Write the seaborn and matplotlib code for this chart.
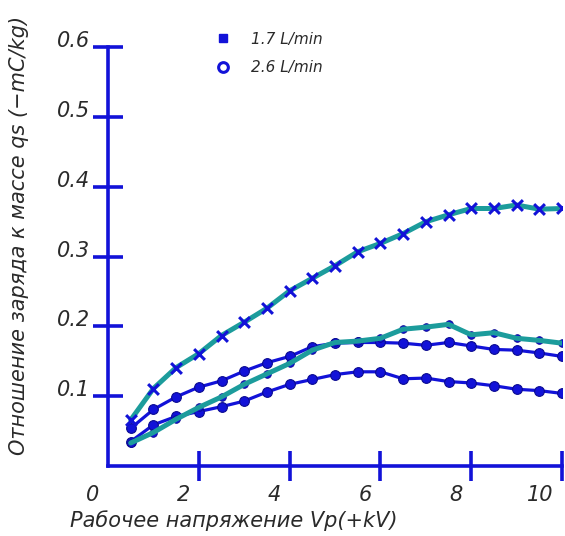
import numpy as np
import pandas as pd
import seaborn as sns
import matplotlib.pyplot as plt
from matplotlib.lines import Line2D
from matplotlib.transforms import ScaledTranslation

# operating voltage, kV
kv = [0.5, 1.0, 1.5, 2.0, 2.5, 3.0, 3.5, 4.0, 4.5, 5.0,
      5.5, 6.0, 6.5, 7.0, 7.5, 8.0, 8.5, 9.0, 9.5, 10.0]

# charge-to-mass ratio, -mC/kg
q_upper = [0.054, 0.081, 0.099, 0.113, 0.122, 0.136, 0.148, 0.157, 0.171, 0.176,
           0.177, 0.177, 0.176, 0.173, 0.177, 0.172, 0.167, 0.166, 0.162, 0.157]
q_lower = [0.035, 0.059, 0.071, 0.078, 0.085, 0.093, 0.106, 0.117, 0.124, 0.131,
           0.135, 0.135, 0.125, 0.126, 0.121, 0.119, 0.115, 0.110, 0.108, 0.104]
q_mid = [0.033, 0.048, 0.067, 0.084, 0.099, 0.117, 0.132, 0.147, 0.166, 0.177,
         0.179, 0.183, 0.196, 0.199, 0.203, 0.188, 0.191, 0.183, 0.180, 0.176]
q_top = [0.066, 0.111, 0.141, 0.161, 0.187, 0.206, 0.226, 0.251, 0.269, 0.287,
         0.307, 0.319, 0.333, 0.350, 0.360, 0.369, 0.369, 0.374, 0.368, 0.369]

legend_labels = ['1.7 L/min', '2.6 L/min']
xticks = [0, 2, 4, 6, 8, 10]
yticks = [0.1, 0.2, 0.3, 0.4, 0.5, 0.6]

blue = '#1212d8'
teal = '#1c9c9c'
txt = '#2a2a2a'

df = pd.DataFrame({'kv': kv, 'upper': q_upper, 'lower': q_lower,
                   'mid': q_mid, 'top': q_top})

sns.set_style('white')
plt.rcParams['font.family'] = ['DejaVu Sans']
plt.rcParams['font.style'] = 'italic'

fig = plt.figure(figsize=(5.65, 5.36), dpi=100)
ax = fig.add_axes([108 / 565, 70 / 536, 454 / 565, 418.7 / 536])

# blue curves with round markers
for col in ['upper', 'lower']:
    sns.lineplot(data=df, x='kv', y=col, ax=ax, color=blue, lw=2.3,
                 marker='o', markersize=7, markerfacecolor=blue,
                 markeredgecolor='#0a0a90', markeredgewidth=0.8, zorder=3)
sns.lineplot(data=df, x='kv', y='mid', ax=ax, color=blue, lw=2.0,
             marker='o', markersize=5.5, markerfacecolor=blue,
             markeredgecolor='#0a0a90', markeredgewidth=0.6, zorder=3)

# teal curves on top
sns.lineplot(data=df, x='kv', y='mid', ax=ax, color=teal, lw=3.6, zorder=4)
sns.lineplot(data=df, x='kv', y='top', ax=ax, color=teal, lw=3.6, zorder=4)
# x markers over the top curve
sns.scatterplot(data=df, x='kv', y='top', ax=ax, marker='x', s=60,
                color=blue, linewidth=2.2, zorder=5)

ax.set_xlim(0, 10)
ax.set_ylim(0, 0.6)
ax.set_xticks(xticks)
ax.set_yticks(yticks)
ax.set_xticklabels([str(t) for t in xticks])
ax.set_yticklabels([f'{t:.1f}' for t in yticks])

for s in ['top', 'right']:
    ax.spines[s].set_visible(False)
for s in ['left', 'bottom']:
    ax.spines[s].set_color(blue)
    ax.spines[s].set_linewidth(2.6)

ax.tick_params(axis='both', bottom=True, left=True, direction='inout',
               length=22, width=2.6, color=blue, labelsize=15, labelcolor=txt)
ax.tick_params(axis='x', pad=3)
ax.tick_params(axis='y', pad=2)
ax.xaxis.get_major_ticks()[0].tick1line.set_visible(False)

shift = ScaledTranslation(-6 / 72, 0, fig.dpi_scale_trans)
for lab in ax.get_xticklabels():
    lab.set_ha('right')
    lab.set_transform(lab.get_transform() + shift)
for lab in ax.get_yticklabels():
    lab.set_va('baseline')

ax.set_xlabel('Рабочее напряжение Vp(+kV)', fontsize=15, color=txt, ha='left')
ax.xaxis.set_label_coords(-0.084, -0.105)
ax.set_ylabel('Отношение заряда к массе qs (−mC/kg)', fontsize=15, color=txt)
ax.yaxis.set_label_coords(-0.175, 0.55)

handles = [
    Line2D([], [], ls='none', marker='s', markersize=6, color=blue),
    Line2D([], [], ls='none', marker='o', markersize=7, markerfacecolor='white',
           markeredgecolor=blue, markeredgewidth=2.2),
]
ax.legend(handles, legend_labels, loc='upper left', bbox_to_anchor=(0.19, 1.07),
          frameon=False, fontsize=11, handletextpad=0.8, labelspacing=0.9,
          labelcolor=txt)

fig.savefig('out.png', dpi=100)
